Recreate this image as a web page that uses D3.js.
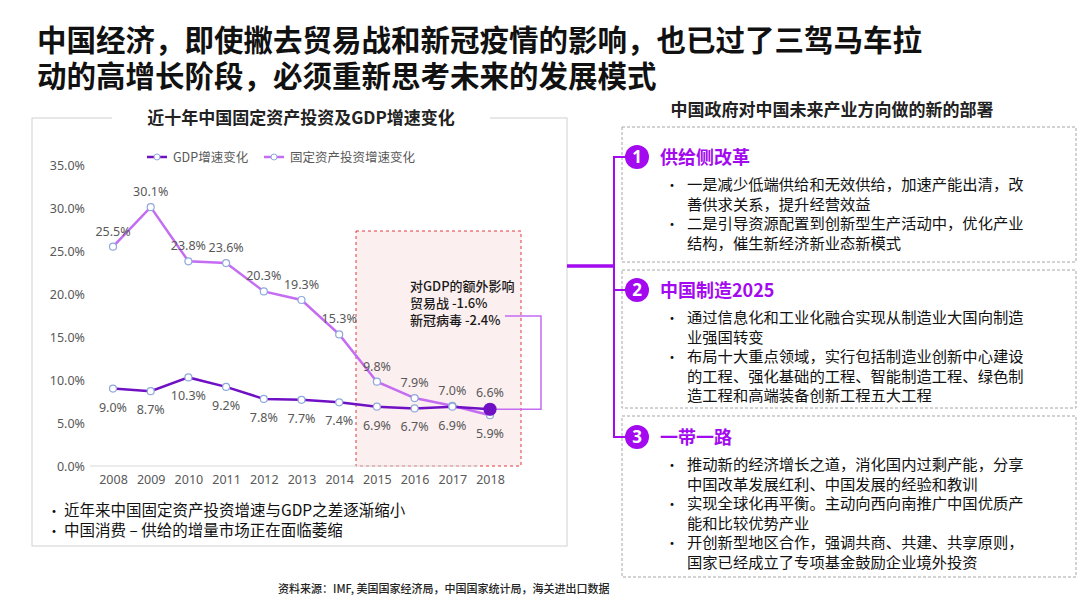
<!DOCTYPE html>
<html>
<head>
<meta charset="utf-8">
<script src="https://cdn.jsdelivr.net/npm/d3@7"></script>
<style>
  body { margin: 0; background: #fff; }
  svg { font-family: "Noto Sans CJK SC", "Noto Sans", sans-serif; }
</style>
</head>
<body>
<div id="chart"></div>
<script>
// data
var years = ["2008", "2009", "2010", "2011", "2012", "2013", "2014", "2015", "2016", "2017", "2018"];
var gdp = [9.0, 8.7, 10.3, 9.2, 7.8, 7.7, 7.4, 6.9, 6.7, 6.9, 6.6];
var invest = [25.5, 30.1, 23.8, 23.6, 20.3, 19.3, 15.3, 9.8, 7.9, 7.0, 5.9];
var yTicks = [0, 5, 10, 15, 20, 25, 30, 35];
var seriesNames = ["GDP增速变化", "固定资产投资增速变化"];

var titleLines = ["中国经济，即使撇去贸易战和新冠疫情的影响，也已过了三驾马车拉", "动的高增长阶段，必须重新思考未来的发展模式"];
var chartTitle = "近十年中国固定资产投资及GDP增速变化";
var noteLines = ["对GDP的额外影响", "贸易战 -1.6%", "新冠病毒 -2.4%"];
var bullets = ["近年来中国固定资产投资增速与GDP之差逐渐缩小", "中国消费 – 供给的增量市场正在面临萎缩"];
var source = "资料来源：IMF, 美国国家经济局，中国国家统计局，海关进出口数据";
var rightTitle = "中国政府对中国未来产业方向做的新的部署";
var sections = [
  { head: "供给侧改革", items: [["一是减少低端供给和无效供给，加速产能出清，改", "善供求关系，提升经营效益"], ["二是引导资源配置到创新型生产活动中，优化产业", "结构，催生新经济新业态新模式"]] },
  { head: "中国制造2025", items: [["通过信息化和工业化融合实现从制造业大国向制造", "业强国转变"], ["布局十大重点领域，实行包括制造业创新中心建设", "的工程、强化基础的工程、智能制造工程、绿色制", "造工程和高端装备创新工程五大工程"]] },
  { head: "一带一路", items: [["推动新的经济增长之道，消化国内过剩产能，分享", "中国改革发展红利、中国发展的经验和教训"], ["实现全球化再平衡。主动向西向南推广中国优质产", "能和比较优势产业"], ["开创新型地区合作，强调共商、共建、共享原则，", "国家已经成立了专项基金鼓励企业境外投资"]] }
];

var width = 1080, height = 608;
var gdpColor = "#7010c4", invColor = "#c46cf2", accent = "#a30af0", dotStroke = "#8fa8dc";
var labelColor = "#595959";

var svg = d3.select("#chart").append("svg")
  .attr("width", width).attr("height", height);

// page title
svg.selectAll(".title").data(titleLines).enter().append("text")
  .attr("x", 37).attr("y", function (d, i) { return 51 + i * 36; })
  .attr("font-size", 29.5).attr("font-weight", "bold").attr("fill", "#111")
  .text(function (d) { return d; });

// left panel frame
svg.append("rect").attr("x", 32).attr("y", 118).attr("width", 535).attr("height", 428)
  .attr("fill", "none").attr("stroke", "#d0d0d0");
svg.append("rect").attr("x", 112).attr("y", 108).attr("width", 378).attr("height", 20).attr("fill", "#fff");
svg.append("text").attr("x", 301).attr("y", 124).attr("text-anchor", "middle")
  .attr("font-size", 17).attr("font-weight", "bold").attr("fill", "#222").text(chartTitle);

// scales
var x = d3.scalePoint().domain(years).range([113, 490]);
var y = d3.scaleLinear().domain([0, 35]).range([466, 165]);

// highlight box 2015-2018
svg.append("rect").attr("x", 356).attr("y", 231).attr("width", 165).attr("height", y(0) - 231)
  .attr("fill", "#fcefef").attr("stroke", "#e0393e").attr("stroke-width", 1)
  .attr("stroke-dasharray", "3,3");

// y axis labels
var yAxis = d3.axisLeft(y).tickValues(yTicks).tickSize(0).tickPadding(0)
  .tickFormat(function (d) { return d.toFixed(1) + "%"; });
svg.append("g").attr("transform", "translate(85,0)").call(yAxis)
  .call(function (g) { g.select(".domain").remove(); })
  .selectAll("text").attr("font-size", 12.5).attr("fill", labelColor)
  .attr("font-family", "'Noto Sans', 'Noto Sans CJK SC', sans-serif");

// x axis
var xAxis = d3.axisBottom(x).tickSize(0).tickPadding(9);
svg.append("g").attr("transform", "translate(0," + y(0) + ")").call(xAxis)
  .call(function (g) {
    g.select(".domain").attr("d", "M90,0H478").attr("stroke", "#d9d9d9");
  })
  .selectAll("text").attr("font-size", 12.5).attr("fill", labelColor)
  .attr("font-family", "'Noto Sans', 'Noto Sans CJK SC', sans-serif");

// connector from 2018 GDP point to note
svg.append("path")
  .attr("d", "M" + x("2018") + "," + y(gdp[10]) + "H541V316H505")
  .attr("fill", "none").attr("stroke", invColor).attr("stroke-width", 1.5);

// note text
svg.selectAll(".note").data(noteLines).enter().append("text")
  .attr("x", 410).attr("y", function (d, i) { return 291 + i * 17; })
  .attr("font-size", 13).attr("font-weight", 500).attr("fill", "#1a1a1a").text(function (d) { return d; });

// lines
var line = d3.line().x(function (d, i) { return x(years[i]); }).y(function (d) { return y(d); });
svg.append("path").datum(invest).attr("d", line).attr("fill", "none")
  .attr("stroke", invColor).attr("stroke-width", 2.5);
svg.append("path").datum(gdp).attr("d", line).attr("fill", "none")
  .attr("stroke", gdpColor).attr("stroke-width", 2.5);

// markers
svg.selectAll(".invDot").data(invest).enter().append("circle")
  .attr("cx", function (d, i) { return x(years[i]); }).attr("cy", function (d) { return y(d); })
  .attr("r", 3.5).attr("fill", "#fff").attr("stroke", dotStroke).attr("stroke-width", 1.2);
svg.selectAll(".gdpDot").data(gdp).enter().append("circle")
  .attr("cx", function (d, i) { return x(years[i]); }).attr("cy", function (d) { return y(d); })
  .attr("r", function (d, i) { return i === 10 ? 6 : 3.5; })
  .attr("fill", function (d, i) { return i === 10 ? gdpColor : "#fff"; })
  .attr("stroke", function (d, i) { return i === 10 ? gdpColor : dotStroke; })
  .attr("stroke-width", 1.2);

// data labels
svg.selectAll(".invLab").data(invest).enter().append("text")
  .attr("x", function (d, i) { return x(years[i]); })
  .attr("y", function (d, i) { return i === 10 ? y(d) + 23 : y(d) - 11; })
  .attr("text-anchor", "middle").attr("font-size", 12.5).attr("fill", labelColor)
  .attr("font-family", "'Noto Sans', sans-serif")
  .text(function (d) { return d.toFixed(1) + "%"; });
svg.selectAll(".gdpLab").data(gdp).enter().append("text")
  .attr("x", function (d, i) { return x(years[i]); })
  .attr("y", function (d, i) { return i === 10 ? y(d) - 12 : y(d) + 23; })
  .attr("text-anchor", "middle").attr("font-size", 12.5).attr("fill", labelColor)
  .attr("font-family", "'Noto Sans', sans-serif")
  .text(function (d) { return d.toFixed(1) + "%"; });

// legend
var legendX = [147, 264], legendColors = [gdpColor, invColor];
seriesNames.forEach(function (name, i) {
  var g = svg.append("g").attr("transform", "translate(" + legendX[i] + ",157)");
  g.append("line").attr("x1", 0).attr("x2", 20).attr("stroke", legendColors[i]).attr("stroke-width", 2.5);
  g.append("circle").attr("cx", 10).attr("r", 3).attr("fill", "#fff").attr("stroke", dotStroke);
  g.append("text").attr("x", 26).attr("y", 4.5).attr("font-size", 12.5).attr("fill", labelColor).text(name);
});

// bullets under chart
svg.selectAll(".bulDot").data(bullets).enter().append("text")
  .attr("x", 47).attr("y", function (d, i) { return 516 + i * 20; })
  .attr("font-size", 14).attr("fill", "#111").text("•");
svg.selectAll(".bul").data(bullets).enter().append("text")
  .attr("x", 64).attr("y", function (d, i) { return 516 + i * 20; })
  .attr("font-size", 15.5).attr("fill", "#111")
  .text(function (d) { return d; });

// source
svg.append("text").attr("x", 278).attr("y", 593).attr("font-size", 11).attr("font-weight", 500).attr("fill", "#222")
  .text(source);

// right panel
svg.append("text").attr("x", 832).attr("y", 116).attr("text-anchor", "middle")
  .attr("font-size", 17).attr("font-weight", "bold").attr("fill", "#222").text(rightTitle);

var boxes = [[127, 262], [270, 408], [416, 577]];
var circleY = [157, 290, 437];

// bracket
svg.append("line").attr("x1", 567).attr("x2", 614).attr("y1", 266).attr("y2", 266)
  .attr("stroke", accent).attr("stroke-width", 3.5);
svg.append("line").attr("x1", 614).attr("x2", 614).attr("y1", circleY[0]).attr("y2", circleY[2])
  .attr("stroke", accent).attr("stroke-width", 2);

sections.forEach(function (s, k) {
  svg.append("rect").attr("x", 622).attr("y", boxes[k][0]).attr("width", 454)
    .attr("height", boxes[k][1] - boxes[k][0])
    .attr("fill", "none").attr("stroke", "#a6a6a6").attr("stroke-dasharray", "3,2");
  svg.append("line").attr("x1", 613).attr("x2", 632).attr("y1", circleY[k]).attr("y2", circleY[k])
    .attr("stroke", accent).attr("stroke-width", 2);
  svg.append("circle").attr("cx", 637).attr("cy", circleY[k]).attr("r", 12).attr("fill", accent);
  svg.append("text").attr("x", 637).attr("y", circleY[k] + 6).attr("text-anchor", "middle")
    .attr("font-size", 17).attr("font-weight", "bold").attr("fill", "#fff")
    .attr("font-family", "'Noto Sans', sans-serif").text(k + 1);
  svg.append("text").attr("x", 660).attr("y", circleY[k] + 7)
    .attr("font-size", 18).attr("font-weight", "bold").attr("fill", accent).text(s.head);
  var ly = circleY[k] + 33;
  s.items.forEach(function (item) {
    svg.append("text").attr("x", 665).attr("y", ly).attr("font-size", 14).attr("fill", "#111").text("•");
    item.forEach(function (t) {
      svg.append("text").attr("x", 687).attr("y", ly).attr("font-size", 15.3).attr("fill", "#111").text(t);
      ly += 19.5;
    });
  });
});
</script>
</body>
</html>
